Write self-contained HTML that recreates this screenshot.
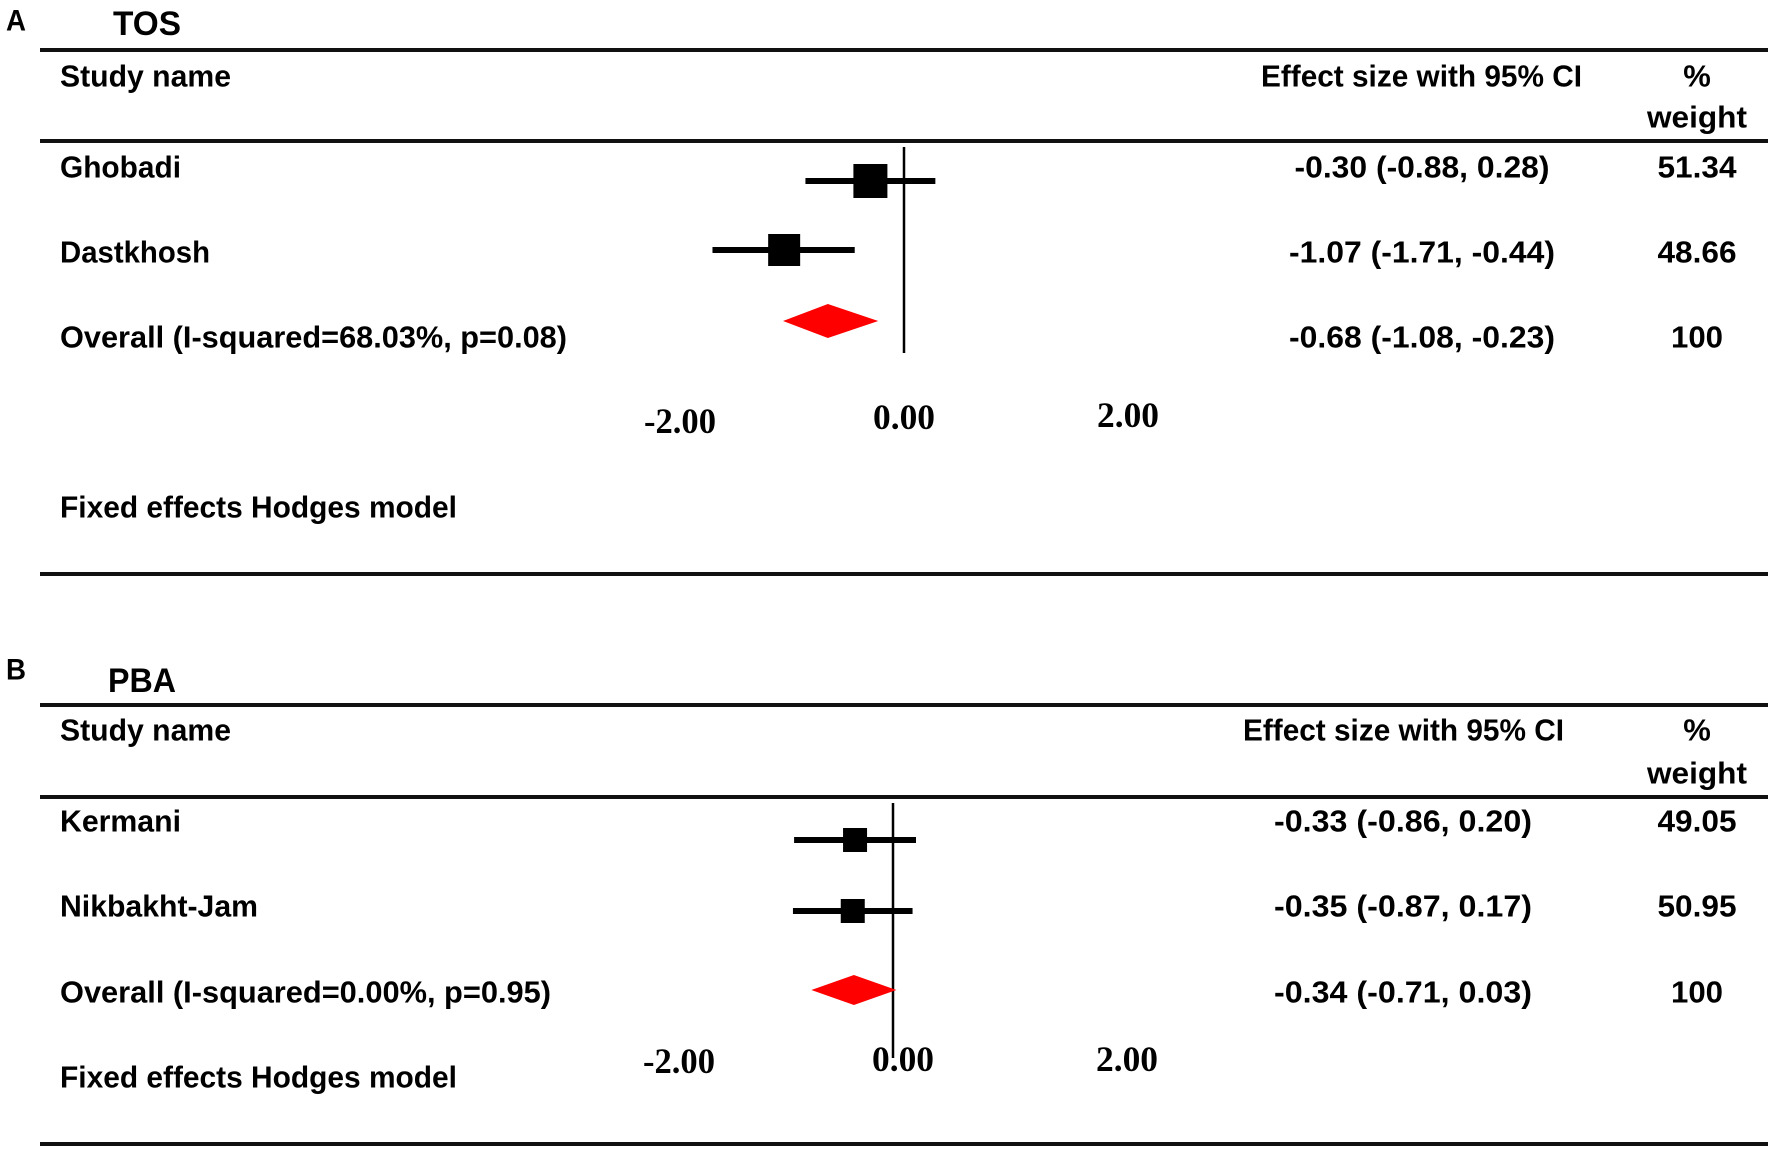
<!DOCTYPE html>
<html><head><meta charset="utf-8"><style>
html,body{margin:0;padding:0;background:#fff;}
svg{display:block;}
text{font-family:"Liberation Sans",sans-serif;font-weight:bold;fill:#000;}
.tick{font-family:"Liberation Serif",serif;}
</style></head><body>
<svg id="chart" width="1772" height="1149" viewBox="0 0 1772 1149" xmlns="http://www.w3.org/2000/svg"></svg>
<script>
// Panel A (TOS) data
const studiesA = ["Ghobadi", "Dastkhosh"];
const effA = [-0.30, -1.07];
const lowA = [-0.88, -1.71];
const highA = [0.28, -0.44];
const weightA = ["51.34", "48.66"];
const estLabelsA = ["-0.30 (-0.88, 0.28)", "-1.07 (-1.71, -0.44)"];
const overallA = [-0.68, -1.08, -0.23];
const overallLabelA = ["Overall (I-squared=68.03%, p=0.08)", "-0.68 (-1.08, -0.23)", "100"];
// Panel B (PBA) data
const studiesB = ["Kermani", "Nikbakht-Jam"];
const effB = [-0.33, -0.35];
const lowB = [-0.86, -0.87];
const highB = [0.20, 0.17];
const weightB = ["49.05", "50.95"];
const estLabelsB = ["-0.33 (-0.86, 0.20)", "-0.35 (-0.87, 0.17)"];
const overallB = [-0.34, -0.71, 0.03];
const overallLabelB = ["Overall (I-squared=0.00%, p=0.95)", "-0.34 (-0.71, 0.03)", "100"];
const tickValues = [-2, 0, 2];
const tickLabels = ["-2.00", "0.00", "2.00"];

const svg = document.getElementById('chart');
const NS = 'http://www.w3.org/2000/svg';
function mk(tag, attrs, parent) {
  const e = document.createElementNS(NS, tag);
  for (const k in attrs) e.setAttribute(k, attrs[k]);
  (parent || svg).appendChild(e);
  return e;
}
function txt(str, x, y, size, len, anchor, cls) {
  const t = mk('text', {x: x, y: y, 'font-size': size, 'dominant-baseline': 'central', 'text-anchor': anchor || 'start'});
  if (len) { t.setAttribute('textLength', len); t.setAttribute('lengthAdjust', 'spacingAndGlyphs'); }
  if (cls) t.setAttribute('class', cls);
  t.textContent = str;
  return t;
}
function studyW(s) { return {"Ghobadi":121,"Dastkhosh":150,"Kermani":121,"Nikbakht-Jam":198}[s]; }
const FS = 31;

function panel(cfg) {
  const xs = v => cfg.zero + v * cfg.k;
  let e;
  e = txt(cfg.letter, 6, cfg.letterY, 30, 20);  
  e = txt(cfg.title, cfg.titleX, cfg.titleY, 34, 68);  
  e = mk('rect', {x: 40, y: cfg.line1 - 2, width: 1728, height: 4, fill: '#111'});  
  e = txt('Study name', 60, cfg.headY, FS, 171);  
  e = txt('Effect size with 95% CI', cfg.effHeadX, cfg.headY, FS, 321);  
  e = txt('%', 1697, cfg.headY, FS, null, 'middle');  
  e = txt('weight', 1697, cfg.weightY, FS, 100, 'middle');  
  e = mk('rect', {x: 40, y: cfg.line2 - 2, width: 1728, height: 4, fill: '#111'});  
  e = mk('line', {x1: xs(0), x2: xs(0), y1: cfg.zTop, y2: cfg.zBot, stroke: '#000', 'stroke-width': 2.5});  
  for (let i = 0; i < cfg.studies.length; i++) {
    e = txt(cfg.studies[i], 60, cfg.rowY[i], FS, studyW(cfg.studies[i]));  
    const g = mk('g', {});
    
    
    mk('line', {x1: xs(cfg.low[i]), x2: xs(cfg.high[i]), y1: cfg.markY[i], y2: cfg.markY[i], stroke: '#000', 'stroke-width': 6}, g);
    const s = cfg.sq[i];
    mk('rect', {x: xs(cfg.eff[i]) - s / 2, y: cfg.markY[i] - s / 2, width: s, height: s, fill: '#000'}, g);
    e = txt(cfg.est[i], cfg.estX, cfg.rowY[i], FS, cfg.estW[i], 'middle');  
    e = txt(cfg.weight[i], 1697, cfg.rowY[i], FS, 79, 'middle');  
  }
  e = txt(cfg.ovLabel[0], 60, cfg.ovY, FS, cfg.ovW);  
  const o = cfg.overall, dy = cfg.dh / 2;
  e = mk('polygon', {points: `${xs(o[1])},${cfg.diaY} ${xs(o[0])},${cfg.diaY - dy} ${xs(o[2])},${cfg.diaY} ${xs(o[0])},${cfg.diaY + dy}`, fill: '#f00'});
   
  e = txt(cfg.ovLabel[1], cfg.estX, cfg.ovY, FS, cfg.ovEstW, 'middle');  
  e = txt(cfg.ovLabel[2], 1697, cfg.ovY, FS, 52, 'middle');  
  for (let i = 0; i < tickValues.length; i++) {
    e = txt(tickLabels[i], cfg.tickZero + tickValues[i] * cfg.tickK, cfg.tickY[i], 36, tickValues[i] < 0 ? 72 : 62, 'middle', 'tick');
     
  }
  e = txt('Fixed effects Hodges model', 60, cfg.fixY, FS, 397);  
  e = mk('rect', {x: 40, y: cfg.line3 - 2, width: 1728, height: 4, fill: '#111'});  
}

panel({letter: 'A', letterY: 21, title: 'TOS', titleX: 113, titleY: 24, line1: 50, headY: 76, effHeadX: 1261, weightY: 117, line2: 141,
  zero: 904, k: 112, zTop: 147, zBot: 353, studies: studiesA, eff: effA, low: lowA, high: highA, weight: weightA, est: estLabelsA,
  estW: [255, 266], estX: 1422, rowY: [167, 252], markY: [181, 250], sq: [34, 32], ovLabel: overallLabelA, ovW: 507, ovEstW: 266,
  overall: overallA, ovY: 337, diaY: 321, dh: 34, tickZero: 904, tickK: 112, tickY: [421, 417, 415], fixY: 507, line3: 574});
panel({letter: 'B', letterY: 670, title: 'PBA', titleX: 108, titleY: 681, line1: 705, headY: 730, effHeadX: 1243, weightY: 773, line2: 797,
  zero: 893, k: 115, zTop: 803, zBot: 1058, studies: studiesB, eff: effB, low: lowB, high: highB, weight: weightB, est: estLabelsB,
  estW: [258, 258], estX: 1403, rowY: [821, 906], markY: [840, 911], sq: [24, 24], ovLabel: overallLabelB, ovW: 491, ovEstW: 258,
  overall: overallB, ovY: 992, diaY: 990, dh: 30, tickZero: 903, tickK: 112, tickY: [1061, 1059, 1059], fixY: 1077, line3: 1144});
</script>
</body></html>
